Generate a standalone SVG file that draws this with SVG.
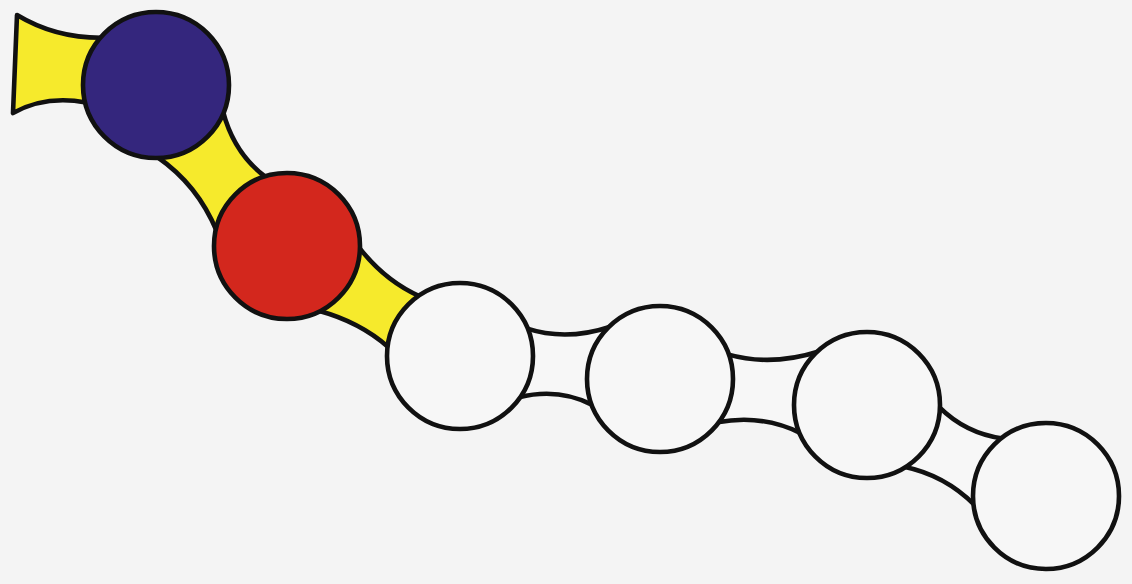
<svg xmlns="http://www.w3.org/2000/svg" width="1132" height="584" viewBox="0 0 1132 584">
  <style>
    .bridge { stroke: #111; stroke-width: 4.6; stroke-linejoin: round; }
    .yellow { fill: #f6ea2c; }
    .white { fill: #f7f7f7; }
    .node { stroke: #111; stroke-width: 4.6; }
  </style>
  <rect x="0" y="0" width="1132" height="584" fill="#f4f4f4"/>
  <g id="connectors">
    <path class="bridge yellow" d="M17,15 Q55,38 101.7,37.8 L86.1,102.4 Q45,95 13,113 Z"/>
    <path class="bridge yellow" d="M223,111.4 Q233.9,153.4 265.9,177.2 L216.6,231 Q197.6,184.8 157.3,157 Z"/>
    <path class="bridge yellow" d="M359,247.3 Q384.4,280.4 419.7,296.3 L388.5,347.2 Q360,322 318.6,310.7 Z"/>
    <path class="bridge white" d="M526.5,328.4 Q566.1,341.4 610.5,326.7 L592.9,405.1 Q558.4,387.4 519,397.3 Z"/>
    <path class="bridge white" d="M727.7,354.4 Q770.7,366.7 818.8,351.5 L800.7,433.1 Q761.7,413.9 717.5,422.3 Z"/>
    <path class="bridge white" d="M939,406.9 Q965.5,433.4 1002.7,438.5 L974.5,504.8 Q944.7,475.1 904.1,466.7 Z"/>
  </g>
  <g id="node-blue"><circle class="node" cx="156" cy="85" r="73" fill="#34267d"/></g>
  <g id="node-red"><circle class="node" cx="287" cy="246" r="73" fill="#d3271d"/></g>
  <g id="node-w1"><circle class="node" cx="460" cy="356" r="73" fill="#f7f7f7"/></g>
  <g id="node-w2"><circle class="node" cx="660" cy="379" r="73" fill="#f7f7f7"/></g>
  <g id="node-w3"><circle class="node" cx="867" cy="405" r="73" fill="#f7f7f7"/></g>
  <g id="node-w4"><circle class="node" cx="1046" cy="496" r="73" fill="#f7f7f7"/></g>
</svg>
